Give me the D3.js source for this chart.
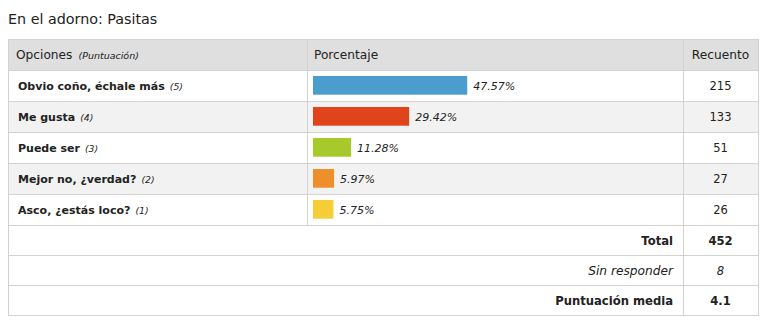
<!DOCTYPE html>
<html>
<head>
<meta charset="utf-8">
<script src="https://cdn.jsdelivr.net/npm/d3@7"></script>
<style>
html,body{margin:0;padding:0;background:#fff;}
svg{display:block;font-family:"DejaVu Sans",sans-serif;}
</style>
</head>
<body>
<svg id="chart" width="764" height="325"></svg>
<script>
const title = "En el adorno: Pasitas";
const headers = ["Opciones", "(Puntuación)", "Porcentaje", "Recuento"];
const options = ["Obvio coño, échale más", "Me gusta", "Puede ser", "Mejor no, ¿verdad?", "Asco, ¿estás loco?"];
const scores = [5, 4, 3, 2, 1];
const percents = [47.57, 29.42, 11.28, 5.97, 5.75];
const counts = [215, 133, 51, 27, 26];
const colors = ["#4a9dcc", "#e1441a", "#a8c92c", "#ed8f2b", "#f6cc37"];
const footerLabels = ["Total", "Sin responder", "Puntuación media"];
const footerValues = ["452", "8", "4.1"];
const footerStyles = ["bold", "italic", "bold"];

const svg = d3.select("#chart");
const L = 8, R = 758, C1 = 307, C2 = 683;
const border = "#d2d2d2", ink = "#222";

svg.append("text").attr("x", 8).attr("y", 24).attr("font-size", 14.3).attr("fill", ink).text(title);

// header
svg.append("rect").attr("x", L).attr("y", 39).attr("width", R - L).attr("height", 31).attr("fill", "#dfdfdf");
const hy = 59;
const h1 = svg.append("text").attr("x", 16).attr("y", hy).attr("fill", ink).attr("font-size", 12.2);
h1.append("tspan").text(headers[0]);
h1.append("tspan").attr("dx", 6).attr("font-size", 9.5).attr("font-style", "italic").text(headers[1]);
svg.append("text").attr("x", 314).attr("y", hy).attr("fill", ink).attr("font-size", 12.2).text(headers[2]);
svg.append("text").attr("x", (C2 + R) / 2).attr("y", hy).attr("text-anchor", "middle").attr("fill", ink).attr("font-size", 12.2).text(headers[3]);

const y = d3.scaleBand().domain(options).range([70, 225]);
const yf = d3.scaleBand().domain(footerLabels).range([225, 315]);
const w = d3.scaleLinear().domain([0, 100]).range([2, 322]);

const rows = svg.selectAll("g.row").data(options).join("g").attr("class", "row")
  .attr("transform", d => `translate(0,${y(d)})`);
rows.append("rect").attr("x", L).attr("width", R - L).attr("height", y.bandwidth())
  .attr("fill", (d, i) => i % 2 ? "#f2f2f2" : "#fff");
const lab = rows.append("text").attr("x", 18).attr("y", 20).attr("fill", ink);
lab.append("tspan").attr("font-weight", "bold").attr("font-size", 11).text(d => d);
lab.append("tspan").attr("dx", 5).attr("font-style", "italic").attr("font-size", 9.3).text((d, i) => `(${scores[i]})`);
rows.append("rect").attr("x", 313).attr("y", 6).attr("height", 18.7)
  .attr("width", (d, i) => w(percents[i])).attr("fill", (d, i) => colors[i]);
rows.append("text").attr("x", (d, i) => 313 + w(percents[i]) + 6).attr("y", 20)
  .attr("font-style", "italic").attr("font-size", 11).attr("fill", ink)
  .text((d, i) => percents[i].toFixed(2) + "%");
rows.append("text").attr("x", (C2 + R) / 2).attr("y", 20).attr("text-anchor", "middle")
  .attr("font-size", 11.5).attr("fill", ink).text((d, i) => counts[i]);

const foot = svg.selectAll("g.foot").data(footerLabels).join("g").attr("class", "foot")
  .attr("transform", d => `translate(0,${yf(d)})`);
foot.append("text").attr("x", 673).attr("y", 19.5).attr("text-anchor", "end").attr("fill", ink)
  .attr("font-size", (d, i) => footerStyles[i] === "italic" ? 12.2 : 11.6)
  .attr("font-weight", (d, i) => footerStyles[i] === "bold" ? "bold" : null)
  .attr("font-style", (d, i) => footerStyles[i] === "italic" ? "italic" : null)
  .text(d => d);
foot.append("text").attr("x", (C2 + R) / 2).attr("y", 19.5).attr("text-anchor", "middle").attr("fill", ink)
  .attr("font-size", 11.6)
  .attr("font-weight", (d, i) => footerStyles[i] === "bold" ? "bold" : null)
  .attr("font-style", (d, i) => footerStyles[i] === "italic" ? "italic" : null)
  .text((d, i) => footerValues[i]);

// grid lines
const g = svg.append("g").attr("stroke", border).attr("stroke-width", 1).attr("shape-rendering", "crispEdges");
const hLines = [39, ...options.map(d => y(d)), ...footerLabels.map(d => yf(d)), 315];
g.selectAll("line.h").data(hLines).join("line").attr("class", "h")
  .attr("x1", L).attr("x2", R + 1).attr("y1", d => d + 0.5).attr("y2", d => d + 0.5);
const vLines = [[L, 39, 316], [C1, 39, 225], [C2, 39, 316], [R, 39, 316]];
g.selectAll("line.v").data(vLines).join("line").attr("class", "v")
  .attr("x1", d => d[0] + 0.5).attr("x2", d => d[0] + 0.5).attr("y1", d => d[1]).attr("y2", d => d[2]);
</script>
</body>
</html>
